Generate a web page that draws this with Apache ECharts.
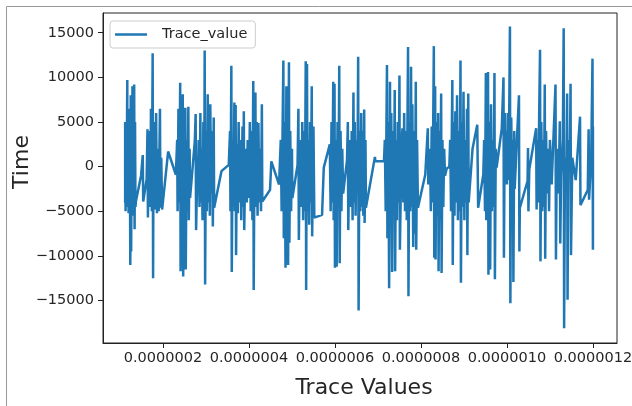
<!DOCTYPE html>
<html>
<head>
<meta charset="utf-8">
<script src="https://cdn.jsdelivr.net/npm/echarts@6/dist/echarts.min.js"></script>
<style>
html,body{margin:0;padding:0;background:#fff;}
#chart{width:632px;height:406px;}
</style>
</head>
<body>
<div id="chart"></div>
<script>
// Trace values (x) in the order they are plotted
const traceValues = [
1.12e-7,1.12e-7,1.13e-7,1.14e-7,1.15e-7,1.17e-7,1.17e-7,1.19e-7,1.20e-7,1.21e-7,1.22e-7,1.23e-7,1.24e-7,1.25e-7,1.26e-7,1.27e-7,1.28e-7,1.29e-7,1.30e-7,1.31e-7,1.32e-7,1.33e-7,1.34e-7,1.35e-7,1.36e-7,1.37e-7,1.49e-7,1.53e-7,1.54e-7,1.62e-7,
1.64e-7,1.65e-7,1.67e-7,1.68e-7,1.70e-7,1.71e-7,1.72e-7,1.74e-7,1.76e-7,1.77e-7,1.78e-7,1.80e-7,1.81e-7,1.83e-7,1.84e-7,1.86e-7,1.88e-7,1.90e-7,1.93e-7,1.94e-7,1.96e-7,1.98e-7,2.12e-7,2.30e-7,
2.33e-7,2.34e-7,2.36e-7,2.38e-7,2.40e-7,2.41e-7,2.43e-7,2.44e-7,2.46e-7,2.47e-7,2.49e-7,2.50e-7,2.52e-7,2.53e-7,2.55e-7,2.57e-7,2.59e-7,2.60e-7,2.62e-7,2.63e-7,2.74e-7,2.76e-7,2.77e-7,2.80e-7,
2.81e-7,2.83e-7,2.85e-7,2.87e-7,2.88e-7,2.90e-7,2.92e-7,2.94e-7,2.96e-7,2.97e-7,2.98e-7,3.00e-7,3.02e-7,3.04e-7,3.05e-7,3.07e-7,3.09e-7,3.10e-7,3.12e-7,3.14e-7,3.16e-7,3.18e-7,3.19e-7,3.36e-7,3.53e-7,
3.56e-7,3.57e-7,3.59e-7,3.60e-7,3.62e-7,3.64e-7,3.66e-7,3.67e-7,3.69e-7,3.70e-7,3.72e-7,3.74e-7,3.76e-7,3.78e-7,3.80e-7,3.82e-7,3.85e-7,3.87e-7,3.88e-7,3.89e-7,3.92e-7,3.95e-7,3.97e-7,4.00e-7,
4.02e-7,4.04e-7,4.06e-7,4.08e-7,4.10e-7,4.11e-7,4.13e-7,4.15e-7,4.16e-7,4.18e-7,4.20e-7,4.22e-7,4.24e-7,4.26e-7,4.28e-7,4.30e-7,4.31e-7,4.49e-7,4.52e-7,4.70e-7,
4.74e-7,4.76e-7,4.80e-7,4.81e-7,4.83e-7,4.85e-7,4.87e-7,4.88e-7,4.90e-7,4.91e-7,4.93e-7,4.94e-7,4.96e-7,4.98e-7,5.00e-7,5.01e-7,5.13e-7,5.15e-7,5.16e-7,5.18e-7,
5.20e-7,5.22e-7,5.24e-7,5.26e-7,5.28e-7,5.30e-7,5.32e-7,5.33e-7,5.35e-7,5.36e-7,5.38e-7,5.40e-7,5.42e-7,5.44e-7,5.46e-7,5.47e-7,5.49e-7,5.50e-7,5.52e-7,5.70e-7,5.74e-7,
5.88e-7,5.90e-7,5.92e-7,5.94e-7,5.96e-7,5.97e-7,5.99e-7,6.00e-7,6.02e-7,6.04e-7,6.06e-7,6.08e-7,6.10e-7,6.11e-7,6.13e-7,6.15e-7,6.17e-7,6.19e-7,6.28e-7,6.30e-7,6.31e-7,6.33e-7,
6.35e-7,6.37e-7,6.39e-7,6.41e-7,6.43e-7,6.44e-7,6.46e-7,6.48e-7,6.50e-7,6.52e-7,6.54e-7,6.55e-7,6.57e-7,6.59e-7,6.61e-7,6.62e-7,6.64e-7,6.66e-7,6.68e-7,6.69e-7,6.71e-7,6.72e-7,6.93e-7,6.94e-7,7.14e-7,
7.16e-7,7.18e-7,7.21e-7,7.22e-7,7.24e-7,7.26e-7,7.28e-7,7.29e-7,7.31e-7,7.33e-7,7.35e-7,7.37e-7,7.39e-7,7.40e-7,7.42e-7,7.44e-7,7.46e-7,7.48e-7,7.50e-7,7.51e-7,
7.55e-7,7.57e-7,7.59e-7,7.61e-7,7.63e-7,7.65e-7,7.67e-7,7.70e-7,7.71e-7,7.73e-7,7.75e-7,7.77e-7,7.78e-7,7.80e-7,7.82e-7,7.84e-7,7.86e-7,7.88e-7,7.89e-7,7.91e-7,7.93e-7,8.10e-7,8.16e-7,8.17e-7,
8.21e-7,8.23e-7,8.25e-7,8.27e-7,8.30e-7,8.31e-7,8.33e-7,8.34e-7,8.36e-7,8.38e-7,8.40e-7,8.41e-7,8.43e-7,8.45e-7,8.47e-7,8.48e-7,8.50e-7,8.52e-7,8.54e-7,8.56e-7,8.60e-7,8.66e-7,
8.68e-7,8.70e-7,8.73e-7,8.74e-7,8.76e-7,8.78e-7,8.80e-7,8.82e-7,8.84e-7,8.86e-7,8.88e-7,8.90e-7,8.92e-7,8.93e-7,8.95e-7,8.97e-7,8.99e-7,9.01e-7,9.03e-7,9.05e-7,9.07e-7,9.08e-7,9.10e-7,9.11e-7,9.20e-7,9.31e-7,9.33e-7,9.45e-7,
9.47e-7,9.49e-7,9.51e-7,9.52e-7,9.54e-7,9.56e-7,9.57e-7,9.59e-7,9.61e-7,9.63e-7,9.65e-7,9.67e-7,9.69e-7,9.71e-7,9.72e-7,9.74e-7,9.76e-7,9.88e-7,9.92e-7,9.93e-7,
9.95e-7,9.96e-7,9.98e-7,10.00e-7,10.02e-7,10.04e-7,10.07e-7,10.08e-7,10.10e-7,10.12e-7,10.14e-7,10.15e-7,10.17e-7,10.18e-7,10.28e-7,10.29e-7,10.30e-7,10.48e-7,10.49e-7,10.50e-7,10.52e-7,10.68e-7,
10.69e-7,10.71e-7,10.73e-7,10.75e-7,10.77e-7,10.78e-7,10.80e-7,10.82e-7,10.84e-7,10.86e-7,10.88e-7,10.89e-7,10.91e-7,10.93e-7,
10.96e-7,10.98e-7,11.00e-7,11.04e-7,11.13e-7,11.14e-7,11.16e-7,11.20e-7,11.23e-7,11.24e-7,11.26e-7,11.30e-7,11.32e-7,11.33e-7,11.35e-7,11.38e-7,11.40e-7,11.41e-7,11.43e-7,11.46e-7,11.48e-7,11.49e-7,11.52e-7,11.60e-7,11.70e-7,11.71e-7,11.88e-7,11.90e-7,11.91e-7,11.96e-7,11.99e-7,12.00e-7,12.00e-7
];
// Time values (y), same order
const timeValues = [
-4000,5000,-5000,3000,-4500,9700,-3000,4000,-5200,6500,-4800,1000,-11000,8000,-9500,2000,-5000,9000,-4200,3000,-5500,9200,-7000,5000,-4500,-3900,-1000,1300,-3900,-1400,
4200,-5700,2000,-4500,4000,-3000,6500,-5000,12700,-12500,3000,-4000,5000,-4800,6000,-5200,2000,-5000,6500,-4600,1000,-4800,1700,-900,
3000,-5000,6500,-4000,9400,-11700,4000,-5500,8100,-12300,2000,-4500,6600,-11500,3000,-5000,6700,-6000,2000,-3500,2800,5900,-7100,0,
-2000,3000,-4500,6000,-4000,2000,-6000,5000,-3000,13000,-13200,4000,-5000,8100,-4000,3000,-5500,7000,-3000,4000,-6700,5500,-4600,-500,200,
4000,-5000,11300,-11800,3000,-4500,7200,-5000,6900,-9900,2500,-5200,5000,-4000,3000,-6000,4500,-4500,6200,-7100,2000,-4000,3000,-3500,
5000,-5000,4000,-6000,9600,-13800,3000,8300,-4500,5000,-5500,4900,-4000,2000,-5000,7000,-3900,-2600,600,-2000,
3000,-5000,11900,-8000,5000,-11300,9000,-4000,3000,-11000,11700,-8500,4000,-5000,2000,-3500,200,6500,-8200,0,
3000,-4500,5000,-6000,4000,-5000,11800,-13800,11500,-5000,3000,-6500,5000,-4000,9000,-7800,2000,4500,-5700,-5400,-100,
2500,-5000,5000,-4000,9500,-6000,9300,-11300,3000,-11200,5000,-4500,11300,-10800,4000,-5000,2000,-3000,700,5000,-7100,0,
3000,-4500,4000,-6000,8300,-4000,5000,-5500,3000,-3000,12300,-16100,4000,-5000,6000,-4500,4000,-5500,6400,-6300,3000,-4600,1100,600,600,
3000,-5000,11400,-8000,5000,-13600,9500,-4000,6000,-11800,4000,-5000,8600,-11700,3000,-6000,5000,-4000,10200,-9300,
2800,4300,-4000,6000,-5000,4000,-6000,13400,-14500,5000,-5000,11200,-4500,7000,-9000,4000,-7500,9500,-9300,3000,-4600,-900,4300,-2000,
2000,-5000,4500,-4000,13500,-10200,9000,-10400,5000,-5500,6000,-11700,4000,-6000,8200,-11900,3000,-4500,2000,-1000,-200,0,
3000,-5000,9700,-11000,5000,-5500,6200,-4000,8000,-6000,4000,-5000,11900,-13000,5000,-4500,8400,-6000,3000,-4000,6500,-9900,8200,-4000,2000,4700,-4600,-900,
3000,-5000,10500,-6000,4000,10600,-12100,5000,-11500,7000,-5000,3000,-4500,10500,-12600,2000,-100,4300,10000,-10200,
6000,-1000,4000,-2000,6000,-1500,15700,-15300,5500,-3000,3000,-12900,4000,-2500,8000,-9500,-4600,-1600,2100,-5000,-300,4300,
-4800,3000,-4000,6000,13100,-10600,5000,-5000,3000,-4500,9200,-10300,4000,-3000,
2000,-5000,3000,-2000,9200,-10400,2000,-3000,5100,-8600,-1000,3000,15500,-18100,1000,-2000,8200,-14900,3000,-500,9300,-9900,1000,-1500,5600,-4300,-2600,4200,-3700,1000,12100,-9300,4500
];
// Tick labels
const xTicks = [2e-7, 4e-7, 6e-7, 8e-7, 10e-7, 12e-7];
const yTicks = [-15000, -10000, -5000, 0, 5000, 10000, 15000];
const seriesName = 'Trace_value';
const xTitle = 'Trace Values';
const yTitle = 'Time';

const chart = echarts.init(document.getElementById('chart'), null, {renderer: 'canvas'});
const pts = traceValues.map((x, i) => [x, timeValues[i]]);
const FONT = 'DejaVu Sans';
const TXT = '#262626';

chart.setOption({
  animation: false,
  backgroundColor: '#fff',
  grid: {left: 103, right: 15, top: 13, bottom: 63, show: true, borderColor: '#222', borderWidth: 1, containLabel: false, outerBoundsMode: 'none'},
  legend: {
    data: [{name: seriesName, icon: 'rect'}], left: 110, top: 21, padding: [5, 8, 5, 5],
    itemWidth: 32, itemHeight: 2.5, backgroundColor: 'rgba(255,255,255,0.8)',
    borderColor: '#ccc', borderWidth: 1, borderRadius: 3,
    itemStyle: {color: '#1f77b4', borderWidth: 0},
    textStyle: {fontFamily: FONT, fontSize: 14.5, color: TXT, padding: [0, 0, 0, 10], lineHeight: 17}
  },
  xAxis: {
    type: 'value', min: 0.605e-7, max: 12.56e-7,
    splitLine: {show: false},
    axisLine: {show: true, onZero: false, lineStyle: {color: '#222', width: 1}},
    axisTick: {show: true, inside: false, length: 5, customValues: xTicks, lineStyle: {color: '#222'}},
    axisLabel: {customValues: xTicks, margin: 8, fontFamily: FONT, fontSize: 14.5, color: TXT,
      formatter: v => Number(v).toFixed(7)}
  },
  yAxis: {
    type: 'value', min: -19740, max: 17210,
    splitLine: {show: false},
    axisLine: {show: true, onZero: false, lineStyle: {color: '#222', width: 1}},
    axisTick: {show: true, inside: false, length: 5, customValues: yTicks, lineStyle: {color: '#222'}},
    axisLabel: {customValues: yTicks, margin: 9, fontFamily: FONT, fontSize: 14.5, color: TXT,
      formatter: v => v < 0 ? '\u2212' + Math.abs(v) : String(v)}
  },
  series: [{
    name: seriesName, type: 'line', data: pts, showSymbol: false, symbol: 'none',
    lineStyle: {color: '#1f77b4', width: 2.5}, itemStyle: {color: '#1f77b4'}, clip: true
  }],
  graphic: [
    {type: 'line', shape: {x1: 6.5, y1: 6.5, x2: 632, y2: 6.5}, style: {stroke: '#999', lineWidth: 1}, silent: true},
    {type: 'line', shape: {x1: 6.5, y1: 6.5, x2: 6.5, y2: 406}, style: {stroke: '#999', lineWidth: 1}, silent: true},
    {type: 'text', x: 22, y: 162, rotation: Math.PI / 2,
      style: {text: yTitle, fontFamily: FONT, fontSize: 22, fill: TXT, align: 'center', verticalAlign: 'middle'}},
    {type: 'text', x: 364, y: 388,
      style: {text: xTitle, fontFamily: FONT, fontSize: 22, fill: TXT, align: 'center', verticalAlign: 'middle'}}
  ]
});
</script>
</body>
</html>
